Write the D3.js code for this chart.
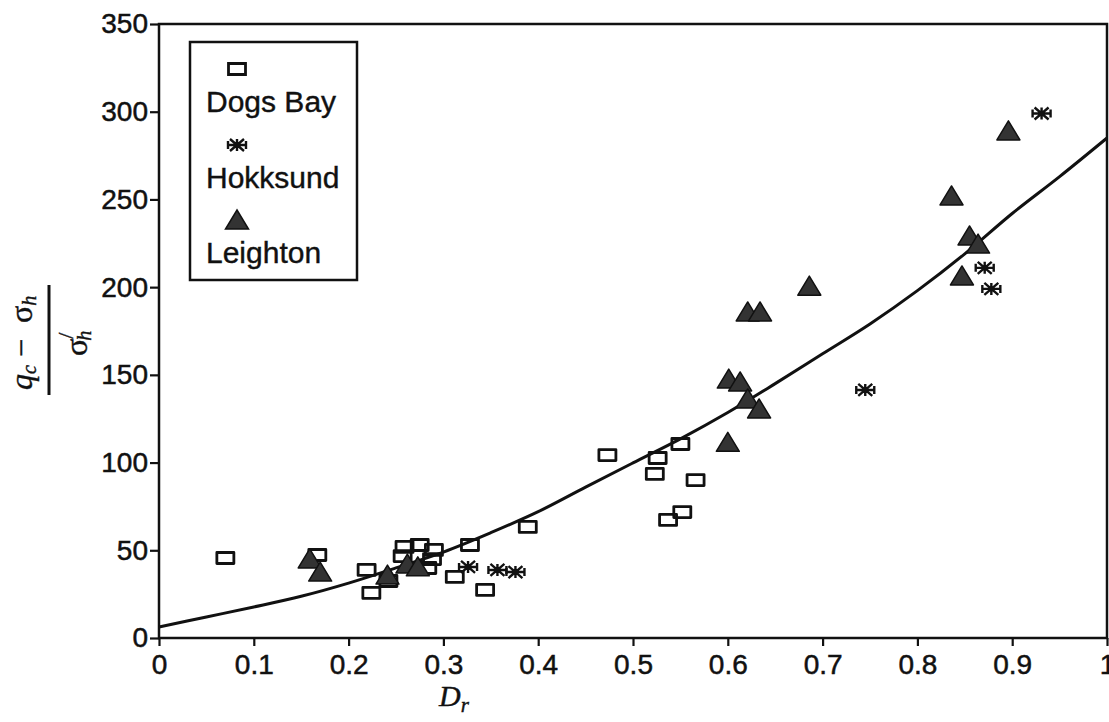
<!DOCTYPE html>
<html>
<head>
<meta charset="utf-8">
<script src="https://cdn.jsdelivr.net/npm/d3@7"></script>
<style>
  html, body { margin: 0; padding: 0; background: #fff; }
  svg { display: block; }
  .tick-label { font-family: "Liberation Sans", Arial, sans-serif; font-size: 28px; fill: #111; stroke: #111; stroke-width: 0.5px; }
  .legend-label { font-family: "Liberation Sans", Arial, sans-serif; font-size: 30px; fill: #111; stroke: #111; stroke-width: 0.4px; }
  .math { font-family: "Liberation Serif", "Times New Roman", serif; fill: #111; stroke: #111; stroke-width: 0.4px; }
</style>
</head>
<body>
<svg id="chart" width="1109" height="722"></svg>
<script>
// Cone resistance normalised by horizontal stress vs. relative density
const dogsBay = [
  [0.070, 45.6], [0.167, 47.3], [0.219, 38.8], [0.224, 25.7], [0.242, 32.5],
  [0.257, 46.7], [0.259, 51.9], [0.275, 53.0], [0.290, 50.2], [0.288, 45.0],
  [0.283, 39.9], [0.312, 34.8], [0.328, 53.0], [0.344, 27.4], [0.389, 63.3],
  [0.473, 104.3], [0.526, 102.6], [0.550, 110.6], [0.523, 93.5], [0.566, 90.0],
  [0.552, 71.8], [0.537, 67.3]
];
const hokksund = [
  [0.326, 40.5], [0.357, 38.8], [0.376, 37.6], [0.745, 141.4],
  [0.871, 211.0], [0.878, 199.0], [0.931, 299.0]
];
const leighton = [
  [0.159, 44.5], [0.170, 37.0], [0.241, 35.3], [0.262, 41.6], [0.273, 40.0],
  [0.600, 111.0], [0.601, 147.0], [0.613, 145.4], [0.621, 135.7], [0.633, 130.0],
  [0.621, 185.3], [0.634, 185.3], [0.686, 200.0], [0.836, 251.4], [0.855, 228.6],
  [0.864, 224.0], [0.847, 205.8], [0.896, 288.5]
];
// Fitted trend line
const trendCurve = [
  [0.00, 6.3], [0.05, 12.0], [0.10, 17.7], [0.15, 23.8], [0.20, 31.3],
  [0.25, 40.0], [0.30, 49.0], [0.35, 60.0], [0.40, 72.0], [0.45, 86.0],
  [0.50, 99.8], [0.55, 113.5], [0.60, 128.5], [0.65, 145.0], [0.70, 162.0],
  [0.75, 179.0], [0.80, 198.0], [0.85, 219.0], [0.90, 242.0], [0.95, 263.0],
  [1.00, 285.0]
];
const xTicks = [0, 0.1, 0.2, 0.3, 0.4, 0.5, 0.6, 0.7, 0.8, 0.9, 1];
const yTicks = [0, 50, 100, 150, 200, 250, 300, 350];
const legendItems = ["Dogs Bay", "Hokksund", "Leighton"];

const svg = d3.select("#chart");
const plotLeft = 159, plotRight = 1107, plotTop = 24, plotBottom = 638;

const x = d3.scaleLinear().domain([0, 1]).range([plotLeft, plotRight]);
const y = d3.scaleLinear().domain([0, 350]).range([plotBottom, plotTop]);

const ink = "#111";

// Plot frame
svg.append("rect")
  .attr("x", plotLeft).attr("y", plotTop)
  .attr("width", plotRight - plotLeft).attr("height", plotBottom - plotTop)
  .attr("fill", "none").attr("stroke", ink).attr("stroke-width", 2.5);

// Axes
const xAxis = d3.axisBottom(x).tickValues(xTicks).tickSize(8).tickPadding(8)
  .tickFormat(d => d === 0 ? "0" : d === 1 ? "1" : d3.format(".1f")(d));
const gx = svg.append("g").attr("transform", `translate(0,${plotBottom})`).call(xAxis);
gx.select(".domain").remove();
gx.selectAll(".tick line").attr("stroke", ink).attr("stroke-width", 2.2);
gx.selectAll(".tick text").attr("class", "tick-label").attr("fill", ink);

const yAxis = d3.axisLeft(y).tickValues(yTicks).tickSize(9).tickPadding(2);
const gy = svg.append("g").attr("transform", `translate(${plotLeft},0)`).call(yAxis);
gy.select(".domain").remove();
gy.selectAll(".tick line").attr("stroke", ink).attr("stroke-width", 2.2);
gy.selectAll(".tick text").attr("class", "tick-label").attr("fill", ink);
gx.attr("font-size", null).attr("font-family", null);
gy.attr("font-size", null).attr("font-family", null);

// Trend curve
const line = d3.line().x(d => x(d[0])).y(d => y(d[1])).curve(d3.curveCatmullRom);
svg.append("path").datum(trendCurve)
  .attr("d", line).attr("fill", "none")
  .attr("stroke", ink).attr("stroke-width", 3);

// Marker shapes
const squarePath = "M-8.5,-5.5 H8.5 V5.5 H-8.5 Z";
const trianglePath = "M0,-11 L11.5,8 L-11.5,8 Z";
const starPath = "M-9,0 H9 M-7,-6 L7,6 M-7,6 L7,-6 M-9,-4 V4 M9,-4 V4 M0,-6 V6";

function drawSquares(g, data) {
  g.selectAll(null).data(data).enter().append("path")
    .attr("transform", d => `translate(${x(d[0])},${y(d[1])})`)
    .attr("d", squarePath).attr("fill", "none")
    .attr("stroke", ink).attr("stroke-width", 2.8).attr("stroke-linejoin", "round");
}
function drawTriangles(g, data) {
  g.selectAll(null).data(data).enter().append("path")
    .attr("transform", d => `translate(${x(d[0])},${y(d[1])})`)
    .attr("d", trianglePath).attr("fill", "#333")
    .attr("stroke", ink).attr("stroke-width", 1.5).attr("stroke-linejoin", "round");
}
function drawStars(g, data) {
  g.selectAll(null).data(data).enter().append("path")
    .attr("transform", d => `translate(${x(d[0])},${y(d[1])})`)
    .attr("d", starPath).attr("fill", "none")
    .attr("stroke", ink).attr("stroke-width", 2.4);
}

const marks = svg.append("g");
drawSquares(marks.append("g"), dogsBay);
drawTriangles(marks.append("g"), leighton);
drawStars(marks.append("g"), hokksund);

// Legend
const lg = svg.append("g");
lg.append("rect").attr("x", 190).attr("y", 42).attr("width", 167).attr("height", 238)
  .attr("fill", "#fff").attr("stroke", ink).attr("stroke-width", 2.5);
const legendRows = [
  { name: legendItems[0], sym: squarePath, fill: "none", sw: 2.8, my: 69, ty: 112 },
  { name: legendItems[1], sym: starPath, fill: "none", sw: 2.4, my: 145, ty: 188 },
  { name: legendItems[2], sym: trianglePath, fill: "#333", sw: 1.5, my: 221, ty: 263 }
];
legendRows.forEach(r => {
  lg.append("path").attr("transform", `translate(237,${r.my})`)
    .attr("d", r.sym).attr("fill", r.fill).attr("stroke", ink).attr("stroke-width", r.sw);
  lg.append("text").attr("class", "legend-label").attr("x", 206).attr("y", r.ty).text(r.name);
});

// X axis title: D_r
const xt = svg.append("text").attr("class", "math").attr("x", 439).attr("y", 706)
  .attr("font-size", 30).attr("font-style", "italic");
xt.append("tspan").text("D");
xt.append("tspan").attr("font-size", 21).attr("dy", 6).text("r");

// Y axis title: (q_c − σ_h) / σ'_h, rotated
const yt = svg.append("g").attr("transform", "translate(49,340) rotate(-90)");
yt.append("line").attr("x1", -55).attr("x2", 55).attr("y1", 0).attr("y2", 0)
  .attr("stroke", ink).attr("stroke-width", 3);
const num = yt.append("text").attr("class", "math").attr("x", -50).attr("y", -17)
  .attr("font-size", 32);
num.append("tspan").attr("font-style", "italic").text("q");
num.append("tspan").attr("font-style", "italic").attr("font-size", 20).attr("dy", 4).text("c");
num.append("tspan").attr("dy", -4).attr("dx", 8).text("−");
num.append("tspan").attr("dx", 16).text("σ");
num.append("tspan").attr("font-style", "italic").attr("font-size", 20).attr("dy", 4).text("h");
const den = yt.append("text").attr("class", "math").attr("x", -16).attr("y", 38)
  .attr("font-size", 32);
den.append("tspan").text("σ");
den.append("tspan").attr("font-size", 22).attr("dy", -14).text("/");
den.append("tspan").attr("font-style", "italic").attr("font-size", 20).attr("dx", -8).attr("dy", 18).text("h");
</script>
</body>
</html>
